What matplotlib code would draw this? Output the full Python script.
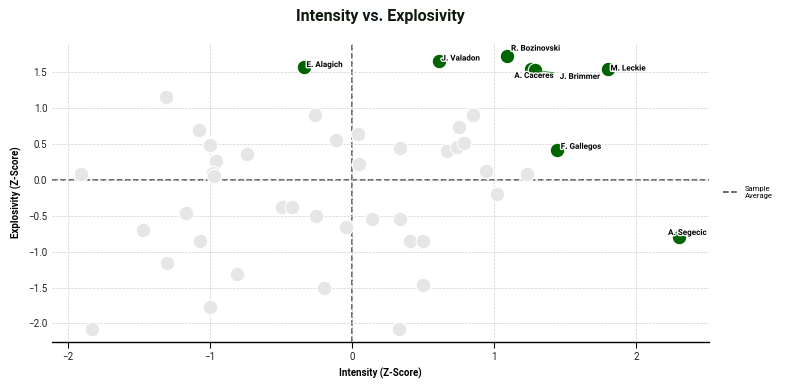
import matplotlib.pyplot as plt
import matplotlib.patheffects as pe

plt.rcParams['font.family'] = ['Roboto', 'DejaVu Sans']

# other players (grey)
others_x = [-1.91, -1.83, -1.47, -1.31, -1.30, -1.17, -1.08, -1.07, -1.00, -0.96,
            -0.98, -0.97, -0.81, -1.00, -0.74, -0.49, -0.42, -0.26, -0.25, -0.20,
            -0.11, -0.04, 0.04, 0.05, 0.14, 0.34, 0.34, 0.41, 0.50, 0.50,
            0.33, 0.67, 0.74, 0.79, 0.75, 0.85, 0.94, 1.02, 1.23]
others_y = [0.08, -2.08, -0.70, 1.16, -1.16, -0.46, 0.70, -0.85, 0.48, 0.27,
            0.09, 0.05, -1.31, -1.77, 0.36, -0.38, -0.38, 0.91, -0.51, -1.50,
            0.56, -0.65, 0.64, 0.22, -0.54, 0.44, -0.54, -0.85, -0.85, -1.47,
            -2.08, 0.41, 0.46, 0.51, 0.74, 0.91, 0.12, -0.19, 0.08]

# highlighted players (green)
names = ['E. Alagich', 'J. Valadon', 'R. Bozinovski', 'A. Caceres', 'J. Brimmer',
         'M. Leckie', 'F. Gallegos', 'A. Segecic']
hl_x = [-0.34, 0.61, 1.09, 1.26, 1.29, 1.80, 1.44, 2.30]
hl_y = [1.57, 1.66, 1.73, 1.54, 1.53, 1.54, 0.42, -0.79]
label_offsets = [(2, 2), (2, 2), (3, 5.5), (2, -4.3), (32, -4.5), (2, 1), (3, 2.5), (6, 3)]
label_ha = ['left', 'left', 'left', 'center', 'center', 'left', 'left', 'center']

fig, ax = plt.subplots(figsize=(7.9, 3.9), dpi=100)
fig.subplots_adjust(left=0.066, right=0.897, bottom=0.123, top=0.89)

ax.grid(True, linestyle='--', linewidth=0.5, color='#d0d0d0', zorder=0)
ax.scatter(others_x, others_y, s=110, color='#e6e6e6', edgecolor='white',
           linewidth=0.8, zorder=2)
ax.scatter(hl_x, hl_y, s=110, color='#006400', edgecolor='white',
           linewidth=0.8, zorder=3)

ax.axhline(0, color='#444444', linestyle='--', linewidth=1.1, label='Sample\nAverage', zorder=1)
ax.axvline(0, color='#444444', linestyle='--', linewidth=1.1, zorder=1)

for n, x, y, off, ha in zip(names, hl_x, hl_y, label_offsets, label_ha):
    arrow = None
    if n in ('A. Caceres', 'J. Brimmer', 'A. Segecic'):
        arrow = dict(arrowstyle='-', color='#3a8a3a', lw=0.6)
    ax.annotate(n, (x, y), xytext=off, textcoords='offset points', ha=ha, va='center',
                fontsize=5.8, fontweight='bold', color='black', zorder=4,
                arrowprops=arrow,
                path_effects=[pe.withStroke(linewidth=2, foreground='white')])

ax.set_xlim(-2.11, 2.51)
ax.set_ylim(-2.26, 1.91)
ax.set_xticks([-2, -1, 0, 1, 2])
ax.set_yticks([-2.0, -1.5, -1.0, -0.5, 0.0, 0.5, 1.0, 1.5])

for side in ['top', 'right', 'left']:
    ax.spines[side].set_visible(False)
ax.spines['bottom'].set_color('black')
ax.spines['bottom'].set_linewidth(1)
ax.tick_params(axis='x', labelsize=7, length=4, color='black', labelcolor='#222222')
ax.tick_params(axis='y', labelsize=7, length=0, labelcolor='#222222')

ax.set_xlabel('Intensity (Z-Score)', fontsize=7, fontweight='bold')
ax.set_ylabel('Explosivity (Z-Score)', fontsize=7, fontweight='bold')
ax.set_title('Intensity vs. Explosivity', fontsize=11.5, fontweight='bold',
             color='#0f1a0f', pad=16)

ax.legend(loc='center left', bbox_to_anchor=(1.012, 0.5), frameon=False,
          fontsize=5.5, handlelength=2)

plt.savefig('out.png', dpi=100)
